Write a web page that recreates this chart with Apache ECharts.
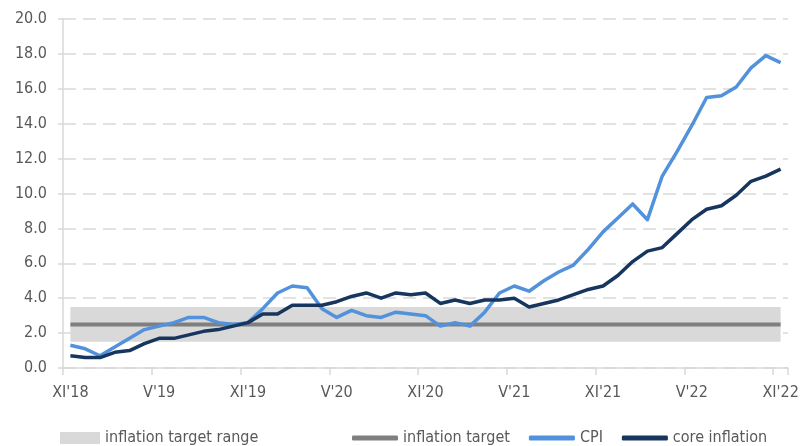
<!DOCTYPE html>
<html>
<head>
<meta charset="utf-8">
<title>Inflation</title>
<script src="https://cdn.jsdelivr.net/npm/echarts@6/dist/echarts.min.js"></script>
<style>
  html, body { margin: 0; padding: 0; background: #fff; }
  #chart { width: 803px; height: 446px; }
</style>
</head>
<body>
<div id="chart"></div>
<script>
// monthly, XI'18 .. XI'22
const months = [
  "XI'18", "XII'18",
  "I'19", "II'19", "III'19", "IV'19", "V'19", "VI'19", "VII'19", "VIII'19", "IX'19", "X'19", "XI'19", "XII'19",
  "I'20", "II'20", "III'20", "IV'20", "V'20", "VI'20", "VII'20", "VIII'20", "IX'20", "X'20", "XI'20", "XII'20",
  "I'21", "II'21", "III'21", "IV'21", "V'21", "VI'21", "VII'21", "VIII'21", "IX'21", "X'21", "XI'21", "XII'21",
  "I'22", "II'22", "III'22", "IV'22", "V'22", "VI'22", "VII'22", "VIII'22", "IX'22", "X'22", "XI'22"
];

const cpi = [
  1.3, 1.1,
  0.7, 1.2, 1.7, 2.2, 2.4, 2.6, 2.9, 2.9, 2.6, 2.5, 2.6, 3.4,
  4.3, 4.7, 4.6, 3.4, 2.9, 3.3, 3.0, 2.9, 3.2, 3.1, 3.0, 2.4,
  2.6, 2.4, 3.2, 4.3, 4.7, 4.4, 5.0, 5.5, 5.9, 6.8, 7.8, 8.6,
  9.4, 8.5, 11.0, 12.4, 13.9, 15.5, 15.6, 16.1, 17.2, 17.9, 17.5
];

const coreInflation = [
  0.7, 0.6,
  0.6, 0.9, 1.0, 1.4, 1.7, 1.7, 1.9, 2.1, 2.2, 2.4, 2.6, 3.1,
  3.1, 3.6, 3.6, 3.6, 3.8, 4.1, 4.3, 4.0, 4.3, 4.2, 4.3, 3.7,
  3.9, 3.7, 3.9, 3.9, 4.0, 3.5, 3.7, 3.9, 4.2, 4.5, 4.7, 5.3,
  6.1, 6.7, 6.9, 7.7, 8.5, 9.1, 9.3, 9.9, 10.7, 11.0, 11.4
];

// target 2.5% +/- 1 pp
const targetValue = 2.5;
const targetRange = [1.5, 3.5];

const FONT = "'Liberation Sans Narrow', 'DejaVu Sans Condensed', sans-serif";
const GRID_COLOR = '#d9d9d9';
const TEXT_COLOR = '#595959';

const chart = echarts.init(document.getElementById('chart'), null, { renderer: 'canvas' });

const legendText = { color: TEXT_COLOR, fontSize: 16, fontFamily: FONT };

chart.setOption({
  animation: false,
  grid: { left: 63, right: 15, top: 19, bottom: 78, containLabel: false },
  legend: [
    {
      left: 60, top: 430, padding: 0, itemWidth: 40, itemHeight: 12, itemGap: 10,
      icon: 'rect', textStyle: legendText,
      data: ['inflation target range']
    },
    {
      left: 352, top: 430, padding: 0, itemWidth: 46, itemHeight: 5, itemGap: 19,
      icon: 'roundRect', textStyle: legendText,
      data: ['inflation target', 'CPI', 'core inflation']
    }
  ],
  xAxis: {
    type: 'category',
    data: months,
    boundaryGap: true,
    axisLine: { lineStyle: { color: GRID_COLOR, width: 1.5 } },
    axisTick: { show: true, interval: 5, length: 7, lineStyle: { color: GRID_COLOR, width: 1.5 } },
    axisLabel: {
      interval: 5, margin: 17, color: TEXT_COLOR, fontSize: 16, fontFamily: FONT
    },
    splitLine: { show: false }
  },
  yAxis: {
    type: 'value',
    min: 0, max: 20, interval: 2,
    axisLine: { show: true, lineStyle: { color: GRID_COLOR, width: 1.5 } },
    axisTick: { show: true, length: 5, lineStyle: { color: GRID_COLOR, width: 1.5 } },
    axisLabel: {
      margin: 16, color: TEXT_COLOR, fontSize: 16, fontFamily: FONT,
      formatter: (v) => v.toFixed(1)
    },
    splitLine: { lineStyle: { color: GRID_COLOR, width: 1.5, type: [13, 7] } }
  },
  series: [
    {
      name: 'inflation target range',
      type: 'line',
      data: [],
      itemStyle: { color: '#d9d9d9' },
      markArea: {
        silent: true,
        itemStyle: { color: '#d9d9d9', opacity: 1 },
        data: [[
          { coord: [months[0], targetRange[0]] },
          { coord: [months[months.length - 1], targetRange[1]] }
        ]]
      }
    },
    {
      name: 'inflation target',
      type: 'line',
      data: months.map(() => targetValue),
      symbol: 'none',
      itemStyle: { color: '#7f7f7f' },
      lineStyle: { color: '#7f7f7f', width: 4 }
    },
    {
      name: 'CPI',
      type: 'line',
      data: cpi,
      symbol: 'none',
      itemStyle: { color: '#5292dc' },
      lineStyle: { color: '#5292dc', width: 3.5, join: 'round' }
    },
    {
      name: 'core inflation',
      type: 'line',
      data: coreInflation,
      symbol: 'none',
      itemStyle: { color: '#17365d' },
      lineStyle: { color: '#17365d', width: 3.5, join: 'round' }
    }
  ]
});
</script>
</body>
</html>
